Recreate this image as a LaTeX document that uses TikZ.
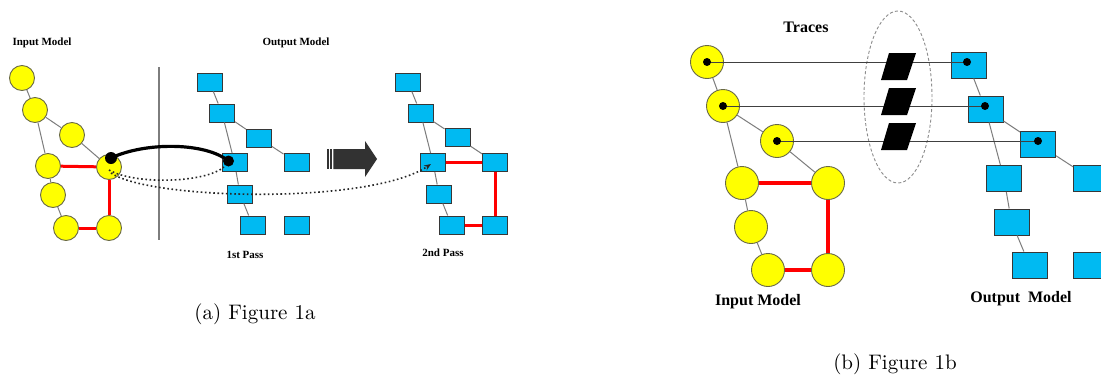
\documentclass[tikz,border=0pt]{standalone}
\usepackage{fontspec}
\newfontfamily\lblfont{Liberation Serif}
\usetikzlibrary{arrows.meta,shapes.geometric}
\definecolor{ballfill}{RGB}{255,255,0}
\definecolor{balledge}{RGB}{105,105,70}
\definecolor{boxfill}{RGB}{0,186,242}
\definecolor{boxedge}{RGB}{55,55,55}
\definecolor{linkgray}{RGB}{125,125,125}
\definecolor{hotred}{RGB}{255,0,0}
\definecolor{arrowgray}{RGB}{50,50,50}
\begin{document}
\begin{tikzpicture}[x=1pt,y=-1pt,
  ball/.style={circle,fill=ballfill,draw=balledge,line width=0.9pt,inner sep=0pt,minimum size=25pt},
  bigball/.style={ball,minimum size=33pt},
  blk/.style={rectangle,fill=boxfill,draw=boxedge,line width=1pt,inner sep=0pt,minimum width=25pt,minimum height=18pt},
  bigblk/.style={blk,minimum width=35pt,minimum height=26pt},
  link/.style={draw=linkgray,line width=1pt},
  strong/.style={draw=hotred,line width=3pt},
  bigstrong/.style={draw=hotred,line width=3.8pt},
  trace/.style={draw=black!75,line width=1pt},
  dotted path/.style={draw=black!85,line width=1.6pt,dash pattern=on 1.6pt off 2.6pt},
  smalllabel/.style={font=\lblfont\bfseries\fontsize{11}{13}\selectfont},
  biglabel/.style={font=\lblfont\bfseries\fontsize{16}{19}\selectfont},
  caption/.style={font=\fontsize{10}{12}\selectfont,scale=2.1,inner sep=0pt}
]
\clip (0,0) rectangle (1101,378);
\fill[white] (0,0) rectangle (1101,378);

% ---------------- Figure 1a ----------------
\node[smalllabel] (inlabel) at (42,43) {Input Model};
\node[smalllabel] (outlabel) at (296,43) {Output Model};

% input model
\node[ball] (c1) at (22,78) {};
\node[ball] (c2) at (35,110) {};
\node[ball] (c3) at (72,135) {};
\node[ball] (c4) at (48,166) {};
\node[ball] (c5) at (109,167) {};
\node[ball] (c6) at (53,195) {};
\node[ball] (c7) at (66,228) {};
\node[ball] (c8) at (109,228) {};
\draw[link] (c1) -- (c2);
\draw[link] (c2) -- (c4);
\draw[link] (c2) -- (c3);
\draw[link] (c3) -- (c5);
\draw[link] (c4) -- (c6);
\draw[link] (c6) -- (c7);
\draw[strong] (c4) -- (c5);
\draw[strong] (c5) -- (c8);
\draw[strong] (c7) -- (c8);

% separator
\coordinate (septop) at (159,67);
\coordinate (sepbot) at (159,240);
\draw[draw=linkgray,line width=1.3pt] (septop) -- (sepbot);

% output model, first pass
\node[blk] (b1) at (209.5,82) {};
\node[blk] (b2) at (222,113) {};
\node[blk] (b3) at (259,138) {};
\node[blk] (b4) at (234.5,162.5) {};
\node[blk] (b5) at (296.5,162.5) {};
\node[blk] (b6) at (240,194) {};
\node[blk] (b7) at (252.5,225) {};
\node[blk] (b8) at (296.5,225) {};
\draw[link] (b1) -- (b2);
\draw[link] (b2) -- (b4);
\draw[link] (b4) -- (b6);
\draw[link] (b6) -- (b7);
\draw[link] (b2) -- (b3);
\draw[link] (b3) -- (b5);
\node[smalllabel] (pass1) at (245,255) {1st Pass};

% output model, second pass
\node[blk] (d1) at (408,82) {};
\node[blk] (d2) at (420.5,113) {};
\node[blk] (d3) at (457.5,137.5) {};
\node[blk] (d4) at (433,162.5) {};
\node[blk] (d5) at (495,162.5) {};
\node[blk] (d6) at (439,194) {};
\node[blk] (d7) at (451.5,225) {};
\node[blk] (d8) at (495,225) {};
\draw[link] (d1) -- (d2);
\draw[link] (d2) -- (d4);
\draw[link] (d4) -- (d6);
\draw[link] (d6) -- (d7);
\draw[link] (d2) -- (d3);
\draw[link] (d3) -- (d5);
\draw[strong] (d4) -- (d5);
\draw[strong] (d5) -- (d8);
\draw[strong] (d7) -- (d8);
\node[smalllabel] (pass2) at (443,253) {2nd Pass};

% transformation links
\coordinate (srcdot) at (111,158);
\coordinate (dstdot) at (228.5,161);
\coordinate (srca) at (109,170);
\coordinate (srcb) at (111,173);
\coordinate (enda) at (224,167);
\coordinate (endb) at (431,164);
\draw[line width=3.2pt,line cap=round] (srcdot) .. controls (145,142) and (205,142) .. (dstdot);
\fill (srcdot) circle (6pt);
\fill (dstdot) circle (5.5pt);
\draw[dotted path] (srca) .. controls (135,185) and (205,183) .. (enda);
\draw[dotted path,-{Stealth[length=7pt,width=5.5pt]}] (srcb) .. controls (150,200) and (370,205) .. (endb);

% step arrow
\fill[arrowgray] (326.7,149) rectangle (329.3,169);
\fill[arrowgray] (330.3,149) rectangle (332.3,169);
\fill[arrowgray] (333.3,149) -- (365,149) -- (365,141) -- (377,159) -- (365,177) -- (365,169) -- (333.3,169) -- cycle;

\node[caption] (capa) at (255,314) {(a) Figure 1a};

% ---------------- Figure 1b ----------------
\node[biglabel] (traceslabel) at (806,27) {Traces};

% input model
\node[bigball] (e1) at (707,62) {};
\node[bigball] (e2) at (723,106) {};
\node[bigball] (e3) at (777,141) {};
\node[bigball] (e4) at (742,183) {};
\node[bigball] (e5) at (828,183) {};
\node[bigball] (e6) at (751,227) {};
\node[bigball] (e7) at (768,270) {};
\node[bigball] (e8) at (828,270) {};
\draw[link] (e1) -- (e2);
\draw[link] (e2) -- (e4);
\draw[link] (e2) -- (e3);
\draw[link] (e3) -- (e5);
\draw[link] (e4) -- (e6);
\draw[link] (e6) -- (e7);
\draw[bigstrong] (e4) -- (e5);
\draw[bigstrong] (e5) -- (e8);
\draw[bigstrong] (e7) -- (e8);
\node[biglabel] (inlabelb) at (758,302) {Input Model};

% output model
\node[bigblk] (f1) at (968.5,65) {};
\node[bigblk] (f2) at (985.5,109) {};
\node[bigblk] (f3) at (1038,144) {};
\node[bigblk] (f4) at (1004,178.5) {};
\node[bigblk] (f5) at (1091,178.5) {};
\node[bigblk] (f6) at (1011.5,222) {};
\node[bigblk] (f7) at (1029.5,265) {};
\node[bigblk] (f8) at (1091,265) {};
\draw[link] (f1) -- (f2);
\draw[link] (f2) -- (f4);
\draw[link] (f4) -- (f6);
\draw[link] (f6) -- (f7);
\draw[link] (f2) -- (f3);
\draw[link] (f3) -- (f5);
\node[biglabel] (outlabelb) at (1021,299) {Output\ \ Model};

% trace container
\node[ellipse,draw=black!45,line width=0.9pt,dash pattern=on 3pt off 2.2pt,minimum width=68pt,minimum height=172pt,inner sep=0pt] (bag) at (898,97) {};

% trace links
\coordinate (t1) at (967,62);
\coordinate (t2) at (985,106);
\coordinate (t3) at (1038,141);
\draw[trace] (e1.center) -- (t1);
\draw[trace] (e2.center) -- (t2);
\draw[trace] (e3.center) -- (t3);
\foreach \k in {1,2,3} {
  \fill (e\k.center) circle (4pt);
  \fill (t\k) circle (4pt);
}
\fill (889,53) -- (916,53) -- (907,80) -- (881,80) -- cycle;
\fill (889,88) -- (916,88) -- (907,115) -- (881,115) -- cycle;
\fill (889,123) -- (916,123) -- (907,150) -- (881,150) -- cycle;

\node[caption] (capb) at (895,364) {(b) Figure 1b};
\end{tikzpicture}
\end{document}
